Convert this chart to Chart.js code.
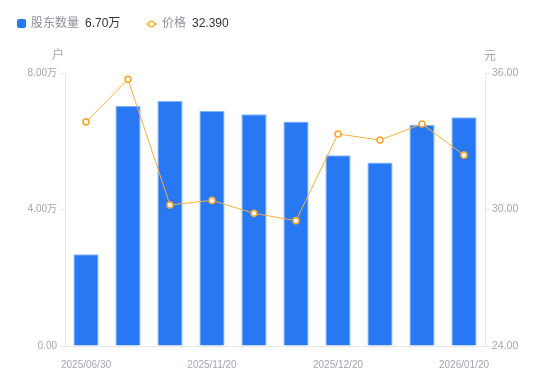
<!DOCTYPE html>
<html>
<head>
<meta charset="utf-8">
<script src="https://cdn.jsdelivr.net/npm/chart.js@4.4.1/dist/chart.umd.min.js"></script>
<style>
  html, body { margin: 0; padding: 0; background: #fff; }
  #wrap { width: 550px; height: 381px; position: relative; }
</style>
</head>
<body>
<div id="wrap"><canvas id="myChart" width="550" height="381"></canvas></div>
<script>
// 报告期 (only every 3rd label is shown on the axis)
const dates = ['2025/06/30', '2025/09/30', '2025/10/31', '2025/11/20', '2025/11/30',
  '2025/12/10', '2025/12/20', '2025/12/31', '2026/01/10', '2026/01/20'];
// 股东数量 (万户)
const holders = [2.69, 7.03, 7.18, 6.89, 6.79, 6.58, 5.59, 5.38, 6.48, 6.70];
// 价格 (元)
const prices = [33.85, 35.72, 30.20, 30.40, 29.83, 29.51, 33.32, 33.05, 33.76, 32.39];

const FONT = "'Liberation Sans', 'Noto Sans CJK SC', sans-serif";
const GRAY = '#a4a7b3';
const BLUE = '#2878f4';
const ORANGE = '#f7b13d';

const extras = {
  id: 'extras',
  afterDraw(chart) {
    const c = chart.ctx;
    const yl = chart.scales.y, yr = chart.scales.y1;
    c.save();
    c.textBaseline = 'middle';
    // 轴单位
    c.font = '12px ' + FONT;
    c.fillStyle = GRAY;
    c.textAlign = 'center';
    c.fillText('户', yl.right - 7, 56);
    c.fillText('元', yr.left + 5, 57);
    // 图例
    c.textAlign = 'left';
    c.fillStyle = BLUE;
    c.beginPath();
    c.roundRect(17, 19, 9, 9, 2);
    c.fill();
    c.fillStyle = '#8e919c';
    c.fillText('股东数量', 31, 24);
    c.fillStyle = '#333';
    c.fillText(holders[holders.length - 1].toFixed(2) + '万', 85, 24);
    c.strokeStyle = ORANGE;
    c.lineWidth = 1.5;
    c.beginPath();
    c.moveTo(146, 24); c.lineTo(157, 24);
    c.stroke();
    c.fillStyle = '#fff';
    c.beginPath();
    c.arc(151.5, 24, 2.8, 0, Math.PI * 2);
    c.fill(); c.stroke();
    c.fillStyle = '#8e919c';
    c.fillText('价格', 162, 24);
    c.fillStyle = '#333';
    c.fillText(prices[prices.length - 1].toFixed(3), 192, 24);
    c.restore();
  }
};

const table = document.getElementById('myChart').getContext('2d');
const myChart = new Chart(table, {
  data: {
    labels: dates,
    datasets: [{
      type: 'line',
      label: '价格',
      data: prices,
      yAxisID: 'y1',
      borderColor: ORANGE,
      borderWidth: 1,
      pointRadius: 3,
      pointBorderWidth: 1.6,
      pointBackgroundColor: '#fff',
      pointBorderColor: '#f5a833',
      tension: 0,
      order: 0
    }, {
      type: 'bar',
      label: '股东数量',
      data: holders,
      yAxisID: 'y',
      backgroundColor: BLUE,
      borderColor: '#86b3fa',
      borderWidth: { top: 1, left: 1, right: 1, bottom: 0 },
      borderSkipped: 'bottom',
      barPercentage: 0.6,
      categoryPercentage: 1,
      order: 1
    }]
  },
  options: {
    responsive: false,
    animation: false,
    layout: { padding: { top: 73, left: 0, right: 0, bottom: 0 } },
    plugins: { legend: { display: false }, tooltip: { enabled: false } },
    scales: {
      x: {
        type: 'category',
        offset: true,
        grid: { display: false },
        border: { color: '#e6e7ec' },
        afterFit: (scale) => { scale.height = 35; },
        ticks: {
          autoSkip: false,
          maxRotation: 0,
          padding: 5,
          color: GRAY,
          font: { family: FONT, size: 10 },
          callback: (v, i) => i % 3 === 0 ? dates[i] : ''
        }
      },
      y: {
        position: 'left',
        min: 0,
        max: 8,
        afterFit: (scale) => { scale.width = 65; },
        grid: { drawOnChartArea: false, drawTicks: true, tickLength: 4, color: '#e6e7ec' },
        border: { color: '#e6e7ec' },
        ticks: {
          stepSize: 4,
          padding: 4,
          color: GRAY,
          font: { family: FONT, size: 10 },
          callback: (v) => v === 0 ? '0.00' : v.toFixed(2) + '万'
        }
      },
      y1: {
        position: 'right',
        min: 24,
        max: 36,
        afterFit: (scale) => { scale.width = 65; },
        grid: { drawOnChartArea: false, drawTicks: true, tickLength: 4, color: '#e6e7ec' },
        border: { color: '#e6e7ec' },
        ticks: {
          stepSize: 6,
          padding: 3,
          color: GRAY,
          font: { family: FONT, size: 10.5 },
          callback: (v) => v.toFixed(2)
        }
      }
    }
  },
  plugins: [extras]
});
</script>
</body>
</html>
